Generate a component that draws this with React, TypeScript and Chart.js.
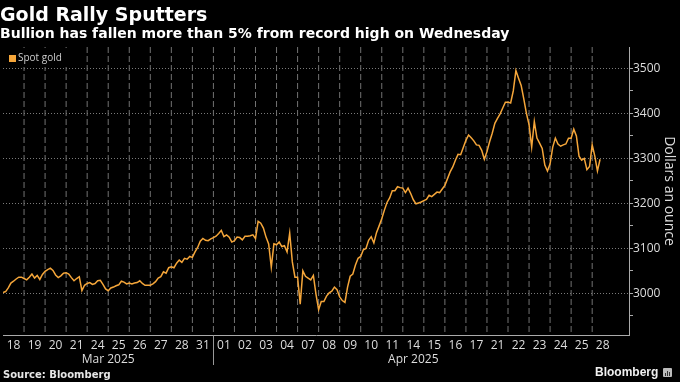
import React, { useEffect, useRef } from 'react';
import { Chart, registerables } from 'chart.js';

Chart.register(...registerables);

// ---- Data ----
const dayLabels = ['18', '19', '20', '21', '24', '25', '26', '27', '28', '31', '01', '02', '03', '04', '07', '08', '09', '10', '11', '14', '15', '16', '17', '21', '22', '23', '24', '25', '28'];
const monthLabels = ['Mar 2025', 'Apr 2025'];
const monthStartDay = [0, 10];
const yTickValues = [2950, 3000, 3050, 3100, 3150, 3200, 3250, 3300, 3350, 3400, 3450, 3500];
const SAMPLES_PER_DAY = 8;
// Spot gold, dollars an ounce, 8 intraday readings per trading day (last day partial)
const spotGold = [
  3002, 3004, 3012, 3023, 3027, 3032, 3036, 3036,
  3033, 3030, 3036, 3043, 3034, 3040, 3031, 3042,
  3049, 3053, 3056, 3051, 3041, 3035, 3039, 3045,
  3046, 3043, 3035, 3028, 3033, 3037, 3006, 3018,
  3022, 3024, 3020, 3022, 3028, 3029, 3020, 3010,
  3006, 3012, 3014, 3017, 3019, 3027, 3025, 3021,
  3023, 3021, 3023, 3024, 3028, 3022, 3018, 3018,
  3018, 3021, 3026, 3034, 3037, 3048, 3045, 3057,
  3059, 3057, 3067, 3074, 3069, 3078, 3076, 3082,
  3080, 3092, 3102, 3116, 3122, 3118, 3117, 3121,
  3124, 3127, 3133, 3140, 3126, 3130, 3125, 3114,
  3117, 3125, 3124, 3119, 3127, 3127, 3128, 3130,
  3122, 3160, 3156, 3145, 3125, 3110, 3058, 3110,
  3108, 3114, 3104, 3106, 3092, 3134, 3070, 3036,
  3036, 2976, 3050, 3038, 3034, 3030, 3040, 2998,
  2964, 2982, 2982, 2994, 3001, 3005, 3014, 3008,
  2992, 2984, 2980, 3014, 3038, 3043, 3063, 3078,
  3082, 3097, 3100, 3118, 3126, 3112, 3135, 3150,
  3166, 3185, 3202, 3212, 3228, 3228, 3237, 3235,
  3234, 3224, 3234, 3222, 3208, 3199, 3201, 3203,
  3206, 3209, 3218, 3215, 3220, 3225, 3224, 3232,
  3240, 3255, 3270, 3281, 3296, 3309, 3308, 3324,
  3340, 3352, 3346, 3339, 3330, 3329, 3318, 3298,
  3315, 3337, 3356, 3378, 3389, 3399, 3412, 3425,
  3425, 3423, 3450, 3495, 3478, 3462, 3432, 3400,
  3375, 3325, 3382, 3345, 3334, 3322, 3285, 3272,
  3288, 3325, 3345, 3332, 3327, 3330, 3332, 3345,
  3345, 3365, 3350, 3305, 3296, 3300, 3275, 3282,
  3330, 3305, 3272, 3298,
];

const LINE_COLOR = '#F5A63A';
const TICK_FONT = { family: '"Open Sans", sans-serif', size: 12 };
const X_MAX = 29.75;
const Y_MIN = 2907.5;
const Y_MAX = 3547.5;

const decorPlugin = {
  id: 'decor',
  beforeDatasetsDraw(chart: any) {
    const { ctx, chartArea } = chart;
    const xs = chart.scales.x;
    ctx.save();
    // vertical dashed day separators
    ctx.strokeStyle = '#727272';
    ctx.lineWidth = 1;
    ctx.setLineDash([6, 3]);
    ctx.beginPath();
    for (let d = 1; d < dayLabels.length; d++) {
      const px = xs.getPixelForValue(d);
      ctx.moveTo(px, chartArea.top);
      ctx.lineTo(px, chartArea.bottom);
    }
    ctx.stroke();
    ctx.setLineDash([]);
    // legend
    ctx.fillStyle = '#000';
    ctx.fillRect(chartArea.left, chartArea.top + 1, 68, 19);
    ctx.fillStyle = LINE_COLOR;
    ctx.fillRect(chartArea.left + 6, chartArea.top + 8, 7, 7);
    ctx.fillStyle = '#cccccc';
    ctx.font = '10px "Open Sans", sans-serif';
    ctx.textBaseline = 'middle';
    ctx.textAlign = 'left';
    ctx.fillText('Spot gold', chartArea.left + 15, chartArea.top + 11.5);
    ctx.restore();
  },
  afterDraw(chart: any) {
    const { ctx, chartArea } = chart;
    const xs = chart.scales.x;
    ctx.save();
    ctx.fillStyle = '#dddddd';
    ctx.font = '12px "Open Sans", sans-serif';
    ctx.textAlign = 'center';
    ctx.textBaseline = 'alphabetic';
    monthLabels.forEach((m, i) => {
      const start = monthStartDay[i];
      const end = i + 1 < monthStartDay.length ? monthStartDay[i + 1] : dayLabels.length;
      const cx = (xs.getPixelForValue(start) + xs.getPixelForValue(end)) / 2;
      ctx.fillText(m, cx, chartArea.bottom + 28);
    });
    ctx.strokeStyle = '#999';
    ctx.lineWidth = 1;
    for (let i = 1; i < monthStartDay.length; i++) {
      const px = Math.round(xs.getPixelForValue(monthStartDay[i])) + 0.5;
      ctx.beginPath();
      ctx.moveTo(px, chartArea.bottom);
      ctx.lineTo(px, chartArea.bottom + 30);
      ctx.stroke();
    }
    ctx.restore();
  },
};

export default function App() {
  const canvasRef = useRef<HTMLCanvasElement | null>(null);

  useEffect(() => {
    document.body.style.margin = '0';
    document.body.style.background = '#000';
    const points = spotGold.map((v, i) => ({ x: i / SAMPLES_PER_DAY, y: v }));
    const xTicks: number[] = [];
    for (let v = 0; v <= dayLabels.length; v += 0.5) xTicks.push(v);

    const chart = new Chart(canvasRef.current as HTMLCanvasElement, {
      type: 'line',
      data: {
        datasets: [
          {
            label: 'Spot gold',
            data: points,
            borderColor: LINE_COLOR,
            borderWidth: 1.5,
            pointRadius: 0,
            tension: 0,
            fill: false,
          },
        ],
      },
      options: {
        animation: false,
        responsive: false,
        devicePixelRatio: 1,
        layout: { padding: { top: 47, left: 0, right: 0, bottom: 0 } },
        plugins: { legend: { display: false }, tooltip: { enabled: false }, title: { display: false } },
        scales: {
          x: {
            type: 'linear',
            min: 0,
            max: X_MAX,
            afterBuildTicks: (s: any) => {
              s.ticks = xTicks.map((v) => ({ value: v }));
            },
            afterFit: (s: any) => {
              s.height = 47;
            },
            grid: { color: 'rgba(0,0,0,0)', drawTicks: false, lineWidth: 1 },
            border: { display: true, color: '#aaaaaa', width: 1 },
            ticks: {
              autoSkip: false,
              maxRotation: 0,
              minRotation: 0,
              padding: 3,
              color: '#dddddd',
              font: TICK_FONT,
              callback: (v: any) => {
                const n = Number(v);
                const i = Math.floor(n);
                return n - i === 0.5 && i < dayLabels.length ? dayLabels[i] : '';
              },
            },
          },
          y: {
            position: 'right',
            min: Y_MIN,
            max: Y_MAX,
            afterBuildTicks: (s: any) => {
              s.ticks = yTickValues.map((v) => ({ value: v }));
            },
            afterFit: (s: any) => {
              s.width = 51;
            },
            grid: {
              color: (c: any) => (c.tick && c.tick.value % 100 === 0 ? '#7a7a7a' : 'rgba(0,0,0,0)'),
              tickColor: '#aaaaaa',
              tickLength: 4,
              tickBorderDash: [],
              drawTicks: true,
            },
            border: { display: true, color: '#aaaaaa', dash: [1, 2], width: 1 },
            ticks: {
              padding: 0,
              color: '#dddddd',
              font: TICK_FONT,
              callback: (v: any) => (Number(v) % 100 === 0 ? String(v) : ''),
            },
            title: {
              display: true,
              text: 'Dollars an ounce',
              color: '#dddddd',
              font: { family: '"Open Sans", sans-serif', size: 14 },
              padding: { top: 3, bottom: 0 },
            },
          },
        },
      } as any,
      plugins: [decorPlugin],
    });
    return () => chart.destroy();
  }, []);

  return (
    <div style={{ position: 'relative', width: 680, height: 382, background: '#000', overflow: 'hidden' }}>
      <canvas ref={canvasRef} width={680} height={382} style={{ position: 'absolute', left: 0, top: 0 }} />
      <div style={{ position: 'absolute', left: 0, top: 3, fontFamily: '"DejaVu Sans", sans-serif', fontWeight: 'bold', fontSize: 19, lineHeight: '22px', color: '#fff', whiteSpace: 'nowrap' }}>
        Gold Rally Sputters
      </div>
      <div style={{ position: 'absolute', left: 0, top: 25, fontFamily: '"DejaVu Sans", sans-serif', fontWeight: 'bold', fontSize: 14, lineHeight: '16px', color: '#fff', whiteSpace: 'nowrap' }}>
        Bullion has fallen more than 5% from record high on Wednesday
      </div>
      <div style={{ position: 'absolute', left: 3, top: 369, fontFamily: '"DejaVu Sans", sans-serif', fontWeight: 'bold', fontSize: 10, lineHeight: '12px', color: '#e6e6e6', whiteSpace: 'nowrap' }}>
        Source: Bloomberg
      </div>
      <div style={{ position: 'absolute', left: 595, top: 365, display: 'flex', alignItems: 'center', gap: 5 }}>
        <span style={{ fontFamily: '"Liberation Sans", sans-serif', fontWeight: 'bold', fontSize: 12, lineHeight: '14px', color: '#f0f0f0' }}>Bloomberg</span>
        <span style={{ display: 'inline-flex', alignItems: 'flex-end', justifyContent: 'center', gap: 1, width: 9, height: 9, background: '#bbb', borderRadius: 1, padding: '1px', boxSizing: 'border-box' }}>
          <span style={{ width: 1, height: 3, background: '#333' }} />
          <span style={{ width: 1, height: 5, background: '#333' }} />
          <span style={{ width: 1, height: 4, background: '#333' }} />
        </span>
      </div>
    </div>
  );
}
